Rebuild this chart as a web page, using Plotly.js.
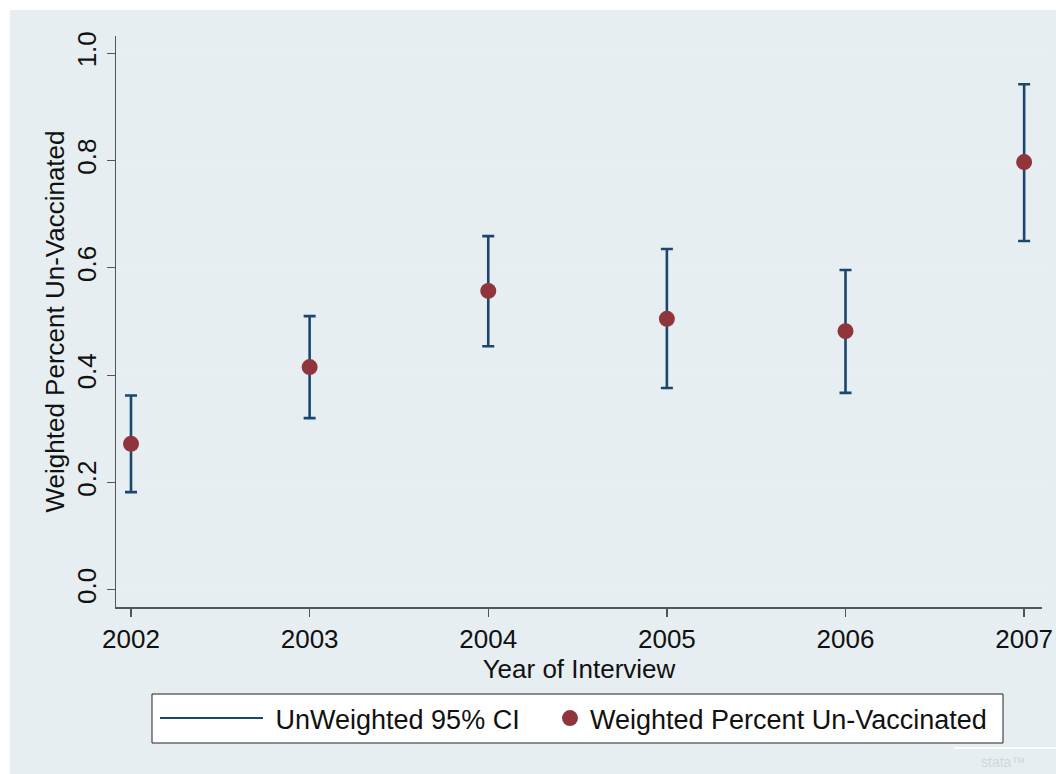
<!DOCTYPE html>
<html>
<head>
<meta charset="utf-8">
<script src="https://cdn.plot.ly/plotly-3.0.1.min.js"></script>
<style>html,body{margin:0;padding:0;background:#fff;}#chart{width:1056px;height:774px;}</style>
</head>
<body>
<div id="chart"></div>
<script>
// Data
const years = [2002, 2003, 2004, 2005, 2006, 2007];
const weightedPct = [0.272, 0.415, 0.557, 0.505, 0.482, 0.797];
const ciLower = [0.182, 0.320, 0.454, 0.376, 0.367, 0.650];
const ciUpper = [0.362, 0.510, 0.659, 0.635, 0.596, 0.942];
const yTicks = [0, 0.2, 0.4, 0.6, 0.8, 1.0];
const yTickLabels = ["0.0", "0.2", "0.4", "0.6", "0.8", "1.0"];
const xTickLabels = ["2002", "2003", "2004", "2005", "2006", "2007"];

const navy = "#1a476f";
const maroon = "#90353b";

const spanUp = ciUpper.map((u, i) => u - ciLower[i]);
const zeros = ciLower.map(() => 0);

const traces = [
  { // CI range bars with caps
    x: years, y: ciLower, type: "scatter", mode: "markers",
    marker: {size: 1, opacity: 0, color: navy},
    error_y: {type: "data", symmetric: false, array: spanUp, arrayminus: zeros,
      color: navy, thickness: 2.6, width: 6},
    showlegend: false, hoverinfo: "skip"
  },
  { // legend entry for CI
    x: [null], y: [null], type: "scatter", mode: "lines",
    name: "\u00A0UnWeighted 95% CI", line: {color: navy, width: 2},
    legend: "legend"
  },
  {
    x: years, y: weightedPct, type: "scatter", mode: "markers",
    name: "Weighted Percent Un-Vaccinated",
    marker: {color: maroon, size: 16, line: {width: 0}},
    legend: "legend2"
  }
];

const L = 116, R = 14, T = 36, B = 167;
const W = 1056, H = 774;
const pw = W - L - R, ph = H - T - B;
const px = v => (v - L) / pw;
const py = v => (H - B - v) / ph;

const layout = {
  width: W, height: H,
  margin: {l: L, r: R, t: T, b: B},
  paper_bgcolor: "#ffffff",
  plot_bgcolor: "#ffffff",
  font: {family: "Liberation Sans, Arial, sans-serif", color: "#111", size: 26},
  showlegend: true,
  xaxis: {
    range: [2001.916, 2007.1],
    tickmode: "array", tickvals: years, ticktext: xTickLabels,
    ticks: "outside", ticklen: 8, tickwidth: 1.3, tickcolor: "#555",
    showline: true, linecolor: "#555", linewidth: 1.5,
    showgrid: false, zeroline: false,
    tickfont: {size: 26, color: "#111"},
    title: {text: "Year of Interview", font: {size: 26, color: "#111"}, standoff: 0}
  },
  yaxis: {
    range: [-0.032, 1.032],
    tickmode: "array", tickvals: yTicks, ticktext: yTickLabels,
    tickangle: -90,
    ticks: "outside", ticklen: 8, tickwidth: 1.3, tickcolor: "#555",
    showline: true, linecolor: "#555", linewidth: 1.5,
    showgrid: true, gridcolor: "#e8eff2", gridwidth: 1.5, zeroline: false,
    tickfont: {size: 26, color: "#111"},
    title: {text: "Weighted Percent Un-Vaccinated", font: {size: 26, color: "#111"}, standoff: 0}
  },
  legend: {
    orientation: "h", x: px(155), xanchor: "left", y: py(694), yanchor: "top",
    bgcolor: "rgba(0,0,0,0)", borderwidth: 0,
    font: {size: 27, color: "#111"}, itemwidth: 103
  },
  legend2: {
    orientation: "h", x: px(550), xanchor: "left", y: py(694), yanchor: "top",
    bgcolor: "rgba(0,0,0,0)", borderwidth: 0,
    font: {size: 27, color: "#111"}, itemwidth: 30
  },
  shapes: [
    {type: "rect", xref: "paper", yref: "paper", layer: "below",
     x0: px(10), x1: px(1060), y0: py(780), y1: py(10),
     fillcolor: "#e6eef1", line: {width: 0}},
    {type: "rect", xref: "paper", yref: "paper", layer: "below",
     x0: px(152), x1: px(1003), y0: py(743), y1: py(694),
     fillcolor: "#ffffff", line: {color: "#222", width: 1}},
    {type: "line", xref: "paper", yref: "paper",
     x0: px(954), x1: px(1056), y0: py(748), y1: py(748),
     line: {color: "#ffffff", width: 1.5}}
  ],
  annotations: [
    {xref: "paper", yref: "paper", x: px(1003), y: py(762), text: "stata™",
     showarrow: false, font: {size: 14, color: "#cfd8dc"}, xanchor: "center", yanchor: "middle"}
  ]
};

Plotly.newPlot("chart", traces, layout, {displayModeBar: false, staticPlot: true});
</script>
</body>
</html>
